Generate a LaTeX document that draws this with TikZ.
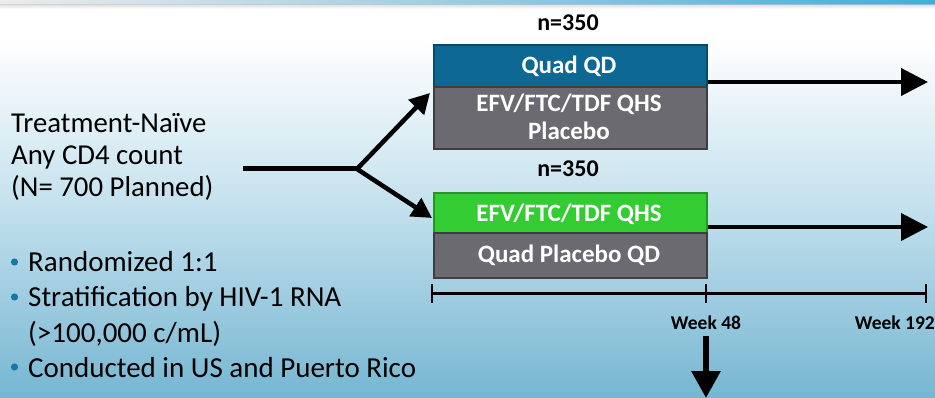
\documentclass[tikz,border=0pt]{standalone}
\usepackage{fontspec}
\setmainfont{Carlito}
\usetikzlibrary{arrows.meta}
\definecolor{bgmid}{RGB}{198,226,238}
\definecolor{bgbot}{RGB}{118,182,210}
\definecolor{quadblue}{RGB}{13,104,148}
\definecolor{quadblueb}{RGB}{10,75,105}
\definecolor{boxgrey}{RGB}{106,106,112}
\definecolor{boxgreyb}{RGB}{62,62,66}
\definecolor{effgreen}{RGB}{51,204,51}
\definecolor{effgreenb}{RGB}{36,150,40}
\definecolor{bulletblue}{RGB}{22,120,165}
\tikzset{
  boxpart/.style={draw, line width=2pt, minimum width=273pt, anchor=north west, inner sep=0pt},
  boxtxt/.style={text=white, font=\fontsize{25}{28}\selectfont\bfseries, anchor=base, inner sep=0pt},
  headtxt/.style={font=\fontsize{24}{28}\selectfont\bfseries, anchor=base, inner sep=0pt},
  weektxt/.style={font=\fontsize{19.5}{24}\selectfont\bfseries, anchor=base, inner sep=0pt},
  plaintxt/.style={font=\fontsize{29}{35}\selectfont, anchor=base west, inner sep=0pt},
  bigarrow/.style={line width=4pt, -{Triangle[length=27pt,width=27pt]}},
  brarrow/.style={line width=4.5pt, -{Triangle[length=20pt,width=21pt]}},
}
\begin{document}
\begin{tikzpicture}[x=1pt,y=-1pt]
\useasboundingbox (0,0) rectangle (935,398);
% background
\fill[white] (0,0) rectangle (935,398);
\shade[top color=white, bottom color=bgmid] (0,40) rectangle (935,200);
\shade[top color=bgmid, bottom color=bgbot] (0,200) rectangle (935,398);
\shade[left color=white!85!gray, right color={rgb,255:red,70;green,172;blue,218}] (0,0) rectangle (935,5);
\shade[top color=black!18, bottom color=white, opacity=0.6] (0,5) rectangle (935,9);

% box 1
\node[boxpart, fill=quadblue, draw=quadblueb, minimum height=42pt] (b1top) at (433,44) {};
\node[boxpart, fill=boxgrey, draw=boxgreyb, minimum height=62pt] (b1bot) at (433,86) {};
\node[headtxt] (n1) at (568,30.5) {n=350};
\node[boxtxt] (t1a) at (569,74) {Quad QD};
\node[boxtxt] (t1b) at (569,112) {EFV/FTC/TDF QHS};
\node[boxtxt] (t1c) at (569,140) {Placebo};

% box 2
\node[boxpart, fill=effgreen, draw=effgreenb, minimum height=40pt] (b2top) at (433,192) {};
\node[boxpart, fill=boxgrey, draw=boxgreyb, minimum height=45pt] (b2bot) at (433,232) {};
\node[headtxt] (n2) at (568,177) {n=350};
\node[boxtxt] (t2a) at (569,222) {EFV/FTC/TDF QHS};
\node[boxtxt] (t2b) at (569,263) {Quad Placebo QD};

% right arrows
\coordinate (r1) at (928,82);
\coordinate (r2) at (928,227);
\draw[bigarrow] (b1top.east |- r1) -- (r1);
\draw[bigarrow] (b2top.east |- r2) -- (r2);

% left text
\node[plaintxt, font=\fontsize{28.8}{32}\selectfont] (pop1) at (11,133) {Treatment-Naïve};
\node[plaintxt, font=\fontsize{28.8}{32}\selectfont] (pop2) at (11,165) {Any CD4 count};
\node[plaintxt, font=\fontsize{28.8}{32}\selectfont] (pop3) at (11,197) {(N= 700 Planned)};

% branch
\coordinate (hstart) at (243,169);
\coordinate (br) at (357,169);
\coordinate (tip1) at (430,93);
\coordinate (tip2) at (432,218);
\draw[line width=5pt] (hstart) -- (br);
\draw[brarrow] (br) -- (tip1);
\draw[brarrow] (br) -- (tip2);

% bullets
\foreach \yy in {262,297,367} \fill[bulletblue] (14.5,\yy) circle (3.6pt);
\node[plaintxt] (bl1) at (28,272) {Randomized 1:1};
\node[plaintxt] (bl2) at (28,307) {Stratification by HIV-1 RNA};
\node[plaintxt] (bl3) at (28,342) {(>100,000 c/mL)};
\node[plaintxt] (bl4) at (28,377) {Conducted in US and Puerto Rico};

% timeline
\coordinate (tl0) at (432,294);
\coordinate (tl1) at (706,294);
\coordinate (tl2) at (926,294);
\draw[line width=3pt] (tl0) -- (tl2);
\draw[line width=2pt] (432,284) -- (432,303);
\draw[line width=2pt] (706,284) -- (706,303);
\draw[line width=2pt] (926,284) -- (926,303);
\node[weektxt] (w48) at (706,330) {Week 48};
\node[weektxt, anchor=base east] (w192) at (935,330) {Week 192};

% down arrow
\coordinate (dend) at (706,398);
\draw[line width=6pt, -{Triangle[length=27pt,width=28pt]}] (w48.south |- 0,336) -- (dend);
\end{tikzpicture}
\end{document}
